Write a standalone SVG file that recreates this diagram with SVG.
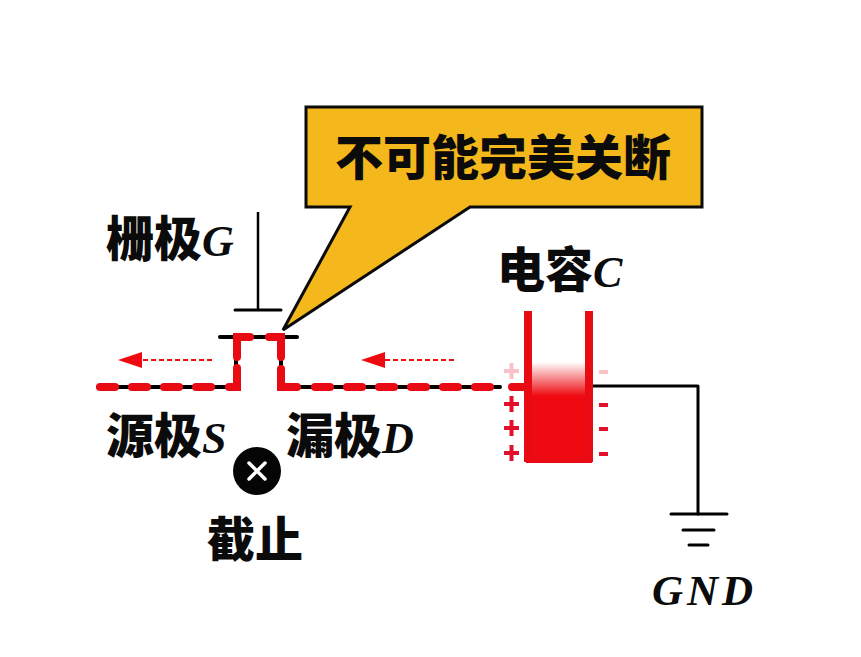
<svg xmlns="http://www.w3.org/2000/svg" width="861" height="657" viewBox="0 0 861 657">
<defs>
<linearGradient id="fill" x1="0" y1="0" x2="0" y2="1"><stop offset="0" stop-color="#ee0a10" stop-opacity="0"/><stop offset="0.25" stop-color="#ee0a10" stop-opacity=".25"/><stop offset="1" stop-color="#ee0a10"/></linearGradient>
<marker id="ah" markerUnits="userSpaceOnUse" markerWidth="27" markerHeight="17" refX="1" refY="8.5" orient="auto"><path d="M1 0.500L25 8.500L1 16.500Z" fill="#ee0a10"/></marker>
</defs>
<style>
.w{fill:none;stroke:#000;stroke-width:4;stroke-linecap:round;stroke-linejoin:round}
.thin{fill:none;stroke:#000;stroke-width:2.500}
.r{fill:none;stroke:#e80b14;stroke-width:8;stroke-linecap:round;stroke-linejoin:miter}
.dash{stroke:#ee0a10;stroke-width:2;stroke-dasharray:5 3;fill:none}
.t{font-family:"Noto Sans CJK SC","Liberation Sans",sans-serif;font-weight:900;fill:#0b0b0b;font-size:48px}
.l{font-family:"Liberation Serif","Noto Sans CJK SC",serif;font-weight:700;font-style:italic;font-size:44px;fill:#0b0b0b}
</style>
<g id="connectors">
<path class="w" d="M98 387H236V337H281V387H500"/>
<path class="w" d="M220 337H297"/>
<path class="thin" d="M258 212V310"/>
<path class="w" d="M235 310H281" style="stroke-width:3"/>
<path class="w" d="M590 386H698V514" style="stroke-width:3"/>
<path class="w" d="M671 514H727M683 530H714M689 545H708" style="stroke-width:3"/>
<g class="r">
<path d="M100 387H115M132 387H147M164 387H179M196 387H211M229 387H237V368"/>
<path d="M237 357V337H250M269 337H281V357M281 369V387H297"/>
<path d="M315 387H330M347 387H362M379 387H394M411 387H426M443 387H458M475 387H490"/>
<path d="M512 387H525"/>
</g>
<path class="dash" d="M212 360H142" marker-end="url(#ah)"/>
<path class="dash" d="M454 360H385" marker-end="url(#ah)"/>
</g>
<g id="capacitor">
<rect x="530" y="362" width="60" height="34" fill="url(#fill)"/>
<rect x="530" y="396" width="60" height="67" fill="#ee0a10"/>
<rect x="524" y="311" width="8" height="151" fill="#e80b14"/>
<rect x="585" y="311" width="8" height="151" fill="#e80b14"/>
<rect x="526" y="458" width="66" height="5" fill="#e80b14"/>
<g stroke-linecap="butt" fill="none" stroke="#e2102a" stroke-width="4">
<path stroke="#f9c2c8" d="M504 371H519M511.500 363V379"/>
<path d="M504 404H519M511.500 396V412M504 428H519M511.500 420V436M504 453H519M511.500 445V461"/>
<path stroke="#f9c2c8" d="M599 372H608"/>
<path d="M599 405H608M599 429H608M599 454H608"/>
</g>
</g>
<g id="callout">
<path d="M306 107H702V207H470L283 330L350 207H306Z" fill="#f4b81c" stroke="#0a0a0a" stroke-width="3" stroke-linejoin="miter"/>
<text class="t" x="335" y="175">不可能完美关断</text>
</g>
<g id="gate"><text class="t" x="106" y="256">栅极<tspan class="l">G</tspan></text></g>
<g id="source"><text class="t" x="106" y="453">源极<tspan class="l">S</tspan></text></g>
<g id="drain"><text class="t" x="286" y="453">漏极<tspan class="l">D</tspan></text></g>
<g id="cap-label"><text class="t" x="497" y="287">电容<tspan class="l">C</tspan></text></g>
<g id="gnd-label"><text class="l" x="652" y="605" letter-spacing="4" style="font-size:43px">GND</text></g>
<g id="status">
<circle cx="257" cy="471" r="24" fill="#050505"/>
<path d="M249 463L265 479M265 463L249 479" stroke="#fff" stroke-width="3.500" stroke-linecap="round"/>
<text class="t" x="207" y="557">截止</text>
</g>
</svg>
